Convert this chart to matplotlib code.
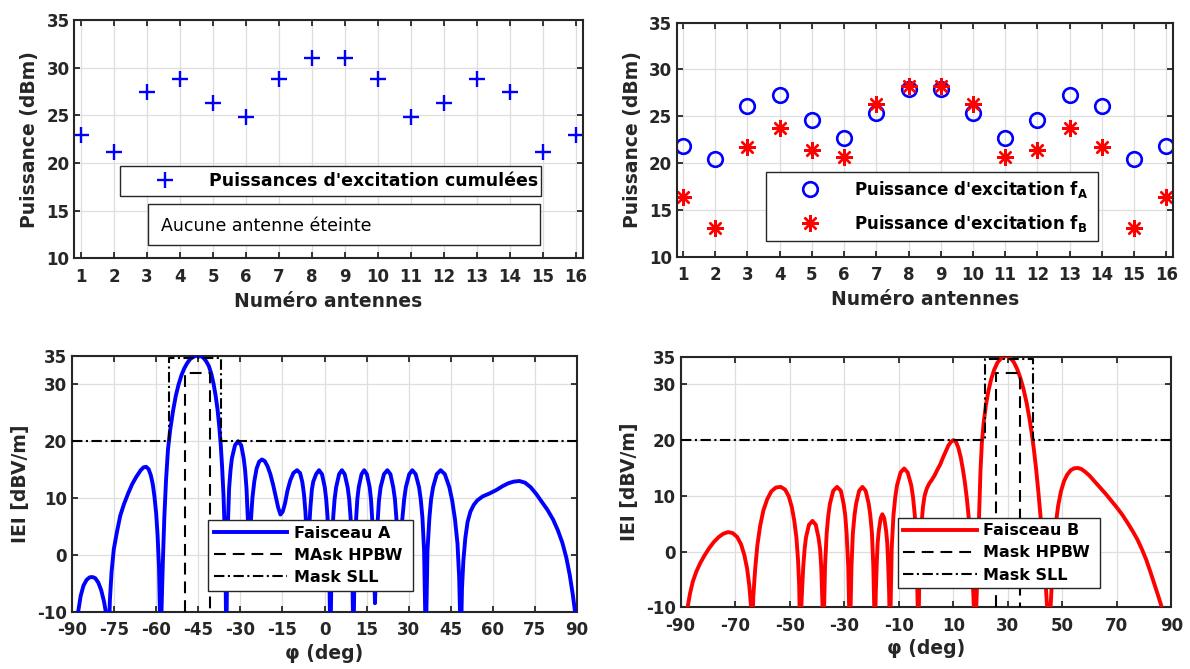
import numpy as np
import matplotlib.pyplot as plt
from matplotlib.patches import Rectangle

plt.rcParams['font.family'] = 'DejaVu Sans'
plt.rcParams['font.weight'] = 'bold'
plt.rcParams['axes.labelweight'] = 'bold'
plt.rcParams['mathtext.fontset'] = 'dejavusans'
plt.rcParams['axes.unicode_minus'] = False
plt.rcParams['lines.scale_dashes'] = False

# ---------------------------------------------------------------- data
antennes = np.arange(1, 17)
p_cumul = [22.9, 21.2, 27.4, 28.8, 26.3, 24.8, 28.8, 31.0,
           31.0, 28.8, 24.8, 26.3, 28.8, 27.4, 21.2, 22.9]
p_fa = [21.8, 20.4, 26.1, 27.3, 24.6, 22.7, 25.4, 27.9,
        27.9, 25.4, 22.7, 24.6, 27.3, 26.1, 20.4, 21.8]
p_fb = [16.4, 13.1, 21.7, 23.8, 21.4, 20.6, 26.3, 28.2,
        28.2, 26.3, 20.6, 21.4, 23.8, 21.7, 13.1, 16.4]

# radiation pattern, beam A (phi in deg, |E| in dBV/m)
faisceau_a = [
    (-88.6, -16), (-87.8, -10), (-86.9, -7.2), (-85.9, -5.4), (-84.8, -4.4),
    (-83.7, -3.95), (-82.7, -3.9), (-81.7, -4.1), (-80.6, -4.9), (-79.6, -6.2),
    (-78.6, -8.2), (-77.6, -11), (-77.0, -16),
    (-76.5, -8), (-75.9, -3), (-75.1, 1), (-74, 4), (-72.8, 6.9), (-71.5, 8.9),
    (-70, 10.8), (-68.5, 12.5), (-67, 13.8), (-65.5, 14.9), (-64.5, 15.4),
    (-63.6, 15.5), (-62.7, 15.1), (-61.9, 14), (-61.2, 12.4), (-60.6, 10.2),
    (-60, 7.3), (-59.5, 3.5), (-59.0, -2), (-58.4, -16),
    (-58.0, -8), (-57.6, -1), (-57.1, 6.5), (-56.5, 13), (-55.8, 18.5),
    (-55, 22), (-54, 25.3), (-53, 28), (-52, 30), (-51, 31.6), (-50, 32.8),
    (-49, 33.7), (-48, 34.4), (-47, 34.8), (-46, 35), (-44.5, 35.1),
    (-43.2, 34.7), (-42.2, 34.1), (-41.2, 33.2), (-40.3, 31.8), (-39.5, 30),
    (-38.8, 28), (-38.1, 25.5), (-37.5, 22.5), (-37, 19.5), (-36.5, 15.5),
    (-36, 10.5), (-35.6, 4.5), (-35.3, -2), (-35.0, -16),
    (-34.6, 3), (-34.0, 11.7), (-33.5, 14.9), (-33.0, 17), (-31.9, 19.3),
    (-30.8, 20), (-29.7, 19.3), (-28.8, 17), (-28.3, 14.9), (-27.8, 11.7),
    (-27.3, 6), (-26.8, -2),
    (-26.3, 5.5), (-25.7, 10), (-25, 13), (-24.2, 15.2), (-23.3, 16.4),
    (-22.3, 16.8), (-21.3, 16.5), (-20.3, 15.6), (-19.3, 14.2), (-18.3, 12.3),
    (-17.3, 10.1), (-16.5, 8.3), (-15.7, 7.1), (-14.9, 7.6), (-14.1, 9),
    (-13.2, 11.3), (-12.2, 13.1), (-11.1, 14.4), (-9.8, 14.9), (-8.7, 14.4),
    (-7.9, 12.8), (-7.3, 10.6), (-6.8, 7.6), (-6.4, 3.8), (-6.0, -2),
    (-5.5, 4.5), (-5.0, 8.5), (-4.5, 11.5), (-4.0, 12.9), (-3.0, 14.2),
    (-1.95, 14.9), (-0.9, 14.2), (0.1, 11.9), (0.6, 9.8), (1.1, 6.6),
    (1.6, 0.7), (2.1, -16),
    (2.6, 0.7), (3.1, 6.6), (3.6, 9.8), (4.15, 11.9), (5.2, 14.2), (6.2, 14.9),
    (7.2, 14.2), (8.25, 11.9), (8.8, 9.8), (9.3, 6.6), (9.8, 0.7), (10.3, -16),
    (10.8, 0.7), (11.3, 6.6), (11.7, 9.8), (12.2, 11.9), (13.2, 14.2),
    (14.15, 14.9), (15.1, 14.2), (16.1, 11.9), (16.6, 9.6), (17.1, 5.5),
    (17.6, -1.5), (18.0, -8.5),
    (18.4, -1.5), (18.9, 5.5), (19.4, 9.5), (20.0, 11.9), (21.2, 14.2),
    (22.4, 14.9), (23.5, 14.2), (24.5, 11.9), (25.1, 9.8), (25.6, 6.6),
    (26.1, 2), (26.6, -1),
    (27.1, 3), (27.8, 6.6), (28.4, 9.8), (29.0, 11.9), (30.2, 14.2),
    (31.3, 14.9), (32.5, 14.2), (33.7, 11.9), (34.3, 9.8), (34.9, 6.6),
    (35.5, 0.7), (36.1, -16),
    (36.7, 0.7), (37.4, 6.6), (38.0, 9.8), (38.7, 11.9), (40.0, 14.2),
    (41.4, 14.9), (42.9, 14.2), (44.5, 11.9), (45.5, 9.6), (46.5, 6.3),
    (47.4, 2), (48.0, -4), (48.6, -16),
    (49.0, -6), (49.5, -1), (50.2, 3), (51.0, 5.8), (52.0, 7.6), (53.2, 8.8),
    (54.5, 9.6), (56.4, 10.3), (58.8, 10.8), (61.2, 11.4), (63.5, 12.1),
    (65.5, 12.6), (67.5, 12.9), (69.5, 13.0), (71.5, 12.7), (73.5, 11.9),
    (75.5, 10.7), (77.5, 9.3), (79.5, 7.9), (81.5, 6.2), (83.2, 4.3),
    (84.8, 2.1), (86.2, -0.5), (87.4, -3.5), (88.5, -7), (89.3, -10),
    (90, -13),
]

# radiation pattern, beam B
faisceau_b = [
    (-88.2, -16), (-87.4, -10), (-86.5, -7.5), (-85.5, -5.4), (-84.2, -3.6),
    (-82.8, -2.1), (-81.2, -0.7), (-79.5, 0.6), (-77.8, 1.7), (-76, 2.6),
    (-74.3, 3.2), (-72.5, 3.5), (-70.8, 3.3), (-69.2, 2.6), (-67.8, 1.3),
    (-66.6, -0.6), (-65.6, -3), (-64.8, -6), (-64.2, -9.5), (-63.8, -16),
    (-63.3, -8), (-62.6, -3), (-61.8, 1.2), (-60.8, 4.6), (-59.6, 7.4),
    (-58.2, 9.4), (-56.7, 10.8), (-55, 11.5), (-53.2, 11.6), (-51.6, 11.1),
    (-50.3, 9.9), (-49.2, 8), (-48.3, 5.6), (-47.5, 2.5), (-46.9, -1.5),
    (-46.5, -6), (-46.1, -16),
    (-45.6, -8.7), (-45.0, -2.8), (-44.5, 0.4), (-44.0, 2.5), (-42.9, 4.8),
    (-41.6, 5.5), (-40.4, 4.8), (-39.4, 2.5), (-38.8, 0.4), (-38.4, -2.8),
    (-38.0, -8.7), (-37.6, -16),
    (-37.0, -2.6), (-36.4, 3.3), (-35.8, 6.5), (-35.2, 8.6), (-34.0, 10.9),
    (-32.6, 11.6), (-31.2, 10.9), (-30.2, 8.6), (-29.6, 6.5), (-29.1, 3.3),
    (-28.5, -2.6), (-27.9, -16),
    (-27.3, -2.6), (-26.8, 3.3), (-26.2, 6.5), (-25.6, 8.6), (-24.5, 10.9),
    (-23.3, 11.6), (-22.1, 10.9), (-21.0, 8.6), (-20.4, 6.5), (-19.8, 3.3),
    (-19.3, -2.6), (-18.7, -16),
    (-18.4, -7.5), (-18.0, -1.6), (-17.7, 1.6), (-17.3, 3.7), (-16.6, 6.0),
    (-16.0, 6.7), (-15.3, 6.0), (-14.6, 3.7), (-14.2, 1.6), (-13.9, -1.6),
    (-13.5, -7.5), (-13.2, -16),
    (-12.55, 0.7), (-11.9, 6.6), (-11.25, 9.8), (-10.6, 11.9), (-9.3, 14.2),
    (-8.0, 14.9), (-6.7, 14.2), (-5.4, 11.9), (-4.75, 9.8), (-4.1, 6.6),
    (-3.45, 0.7), (-2.8, -16),
    (-2.4, -4), (-2.0, 1.5), (-1.6, 5), (-1.1, 8), (-0.5, 10), (0.3, 11.3),
    (1.2, 12.2), (2.2, 12.9), (3.2, 13.7), (4.2, 14.7), (5.2, 15.6),
    (6.2, 16.8), (7.2, 17.9), (8.2, 19), (9.2, 19.7), (10.1, 20),
    (11.0, 19.7), (11.9, 18.6), (12.8, 16.8), (13.6, 14.6), (14.3, 12.3),
    (15, 9.5), (15.7, 6), (16.3, 2), (16.9, -3), (17.4, -8), (18, -16),
    (18.6, -8), (19.0, -1), (19.5, 7), (20.0, 14.5), (20.5, 19.5),
    (21.2, 23.3), (22.0, 26.3), (22.9, 28.8), (23.9, 30.9), (25.0, 32.6),
    (26.2, 33.9), (27.4, 34.6), (28.6, 35), (29.8, 35.1), (31.0, 34.7),
    (32.2, 34), (33.4, 32.8), (34.6, 31.2), (35.8, 29.1), (36.9, 26.7),
    (37.9, 24), (38.8, 21.2), (39.6, 18.2), (40.4, 14.8), (41.2, 10.8),
    (42.0, 6.4), (42.8, 1.6), (43.6, -3.5), (44.3, -9), (45.1, -16),
    (45.8, -9), (46.4, -3.5), (47.0, 1.5), (47.7, 5.3), (48.5, 8.3),
    (49.5, 10.8), (50.6, 12.6), (51.8, 13.8), (53.1, 14.6), (54.4, 14.95),
    (55.7, 15), (57.0, 14.8), (58.4, 14.3), (60, 13.6), (62, 12.5),
    (64, 11.4), (66, 10.3), (68, 9.1), (70, 7.9), (72, 6.6), (74, 5.1),
    (76, 3.5), (77.6, 2.1), (79.2, 0.4), (80.8, -1.5), (82.4, -3.8),
    (83.8, -5.9), (85.2, -8), (86.6, -10.2), (87.6, -13),
]

# masks
hpbw_a_phi = [-49.6, -49.6, -40.7, -40.7]
hpbw_a_db = [-10, 32, 32, -10]
sll_a_phi = [-90, -55.6, -55.6, -36.9, -36.9, 90]
sll_a_db = [20, 20, 34.6, 34.6, 20, 20]
hpbw_b_phi = [25.6, 25.6, 34.5, 34.5]
hpbw_b_db = [-10, 32, 32, -10]
sll_b_phi = [-90, 21.6, 21.6, 39.3, 39.3, 90]
sll_b_db = [20, 20, 34.6, 34.6, 20, 20]

# ---------------------------------------------------------------- figure
W, H = 1190, 669
INK = '#262626'
DASH = (0, (8.5, 5))
DASHDOT = (0, (7.5, 2.5, 1.5, 2.5))

fig = plt.figure(figsize=(W / 100, H / 100), dpi=100)


def px_axes(x0, x1, ytop, ybot):
    return fig.add_axes([x0 / W, 1 - ybot / H, (x1 - x0) / W, (ybot - ytop) / H])


def style(ax, xlim, xticks, ylim, yticks):
    ax.set_xlim(*xlim)
    ax.set_xticks(xticks)
    ax.set_ylim(*ylim)
    ax.set_yticks(yticks)
    ax.grid(True, color='#dedede', lw=0.9)
    ax.set_axisbelow(True)
    ax.tick_params(direction='in', top=True, right=True, length=4, width=1.3,
                   color=INK, labelsize=12, labelcolor=INK)
    ax.tick_params(axis='x', pad=7)
    for s in ax.spines.values():
        s.set_linewidth(1.5)
        s.set_color(INK)


def legend(ax, x0, x1, ytop, ybot, **kw):
    leg = ax.legend(loc='upper left',
                    bbox_to_anchor=(x0 / W, 1 - ybot / H, (x1 - x0) / W, (ybot - ytop) / H),
                    bbox_transform=fig.transFigure, mode='expand', borderaxespad=0,
                    fancybox=False, edgecolor=INK, framealpha=1, **kw)
    leg.get_frame().set_linewidth(1.0)
    for t in leg.get_texts():
        t.set_color('black')
    return leg


# top left: cumulated powers
ax1 = px_axes(74.4, 582.7, 20, 258.3)
ax1.plot(antennes, p_cumul, '+', color='#0000ff', ms=11, mew=1.7,
         label="Puissances d'excitation cumulées")
style(ax1, (0.8, 16.2), antennes, (10, 35), range(10, 36, 5))
ax1.set_ylabel('Puissance (dBm)', fontsize=13.5, color=INK, labelpad=5)
ax1.set_xlabel('Numéro antennes', fontsize=13.5, color=INK, labelpad=4)
legend(ax1, 120, 541, 166, 199, fontsize=12.5, handlelength=4.5,
       handletextpad=0.3, borderpad=0.35)
fig.add_artist(Rectangle((148 / W, 1 - 245 / H), 392 / W, 41 / H,
                         transform=fig.transFigure, facecolor='white',
                         edgecolor=INK, lw=1.0, zorder=5))
fig.text(161 / W, 1 - 226 / H, 'Aucune antenne éteinte', fontsize=12.5,
         fontweight='normal', va='center', ha='left', color='black', zorder=6)

# top right: powers per beam
ax2 = px_axes(676.6, 1172.7, 22.7, 256.7)
ax2.plot(antennes, p_fa, 'o', mfc='none', mec='#0000ff', ms=10.5, mew=1.9,
         label=r"Puissance d'excitation f$_{\mathbf{A}}$")
ax2.plot(antennes, p_fb, marker=(8, 2, 0), ls='none', color='#ff0000', ms=12, mew=1.7,
         label=r"Puissance d'excitation f$_{\mathbf{B}}$")
style(ax2, (0.8, 16.2), antennes, (10, 35), range(10, 36, 5))
ax2.set_ylabel('Puissance (dBm)', fontsize=13.5, color=INK, labelpad=5)
ax2.set_xlabel('Numéro antennes', fontsize=13.5, color=INK, labelpad=4)
legend(ax2, 765.6, 1098.3, 171.7, 248.3, fontsize=12, handlelength=4.4,
       handletextpad=0.45, borderpad=0.45, labelspacing=0.75)

# bottom left: beam A
ax3 = px_axes(72, 577, 356, 611.7)
pa = np.array(faisceau_a)
ax3.plot(pa[:, 0], pa[:, 1], color='#0000ff', lw=2.8, label='Faisceau A', zorder=3)
ax3.plot(hpbw_a_phi, hpbw_a_db, color='black', lw=1.5, ls=DASH, label='MAsk HPBW', zorder=4)
ax3.plot(sll_a_phi, sll_a_db, color='black', lw=1.5, ls=DASHDOT, label='Mask SLL', zorder=4)
style(ax3, (-90, 90), range(-90, 91, 15), (-10, 35), [-10, 0, 10, 20, 30, 35])
ax3.set_ylabel('IEI [dBV/m]', fontsize=13.5, color=INK, labelpad=5)
ax3.set_xlabel('φ (deg)', fontsize=13.5, color=INK, labelpad=3)
legend(ax3, 208.3, 412.7, 520, 600, fontsize=11.5, handlelength=4.6,
       handletextpad=0.4, borderpad=0.35, labelspacing=0.45)

# bottom right: beam B
ax4 = px_axes(680.5, 1171.4, 356.5, 607.3)
pb = np.array(faisceau_b)
ax4.plot(pb[:, 0], pb[:, 1], color='#ff0000', lw=2.8, label='Faisceau B', zorder=3)
ax4.plot(hpbw_b_phi, hpbw_b_db, color='black', lw=1.5, ls=DASH, label='Mask HPBW', zorder=4)
ax4.plot(sll_b_phi, sll_b_db, color='black', lw=1.5, ls=DASHDOT, label='Mask SLL', zorder=4)
style(ax4, (-90, 90), range(-90, 91, 20), (-10, 35), [-10, 0, 10, 20, 30, 35])
ax4.set_ylabel('IEI [dBV/m]', fontsize=13.5, color=INK, labelpad=5)
ax4.set_xlabel('φ (deg)', fontsize=13.5, color=INK, labelpad=3)
legend(ax4, 897.7, 1100, 517.7, 598.3, fontsize=11.5, handlelength=4.6,
       handletextpad=0.4, borderpad=0.35, labelspacing=0.45)

fig.savefig('out.png', dpi=100)
